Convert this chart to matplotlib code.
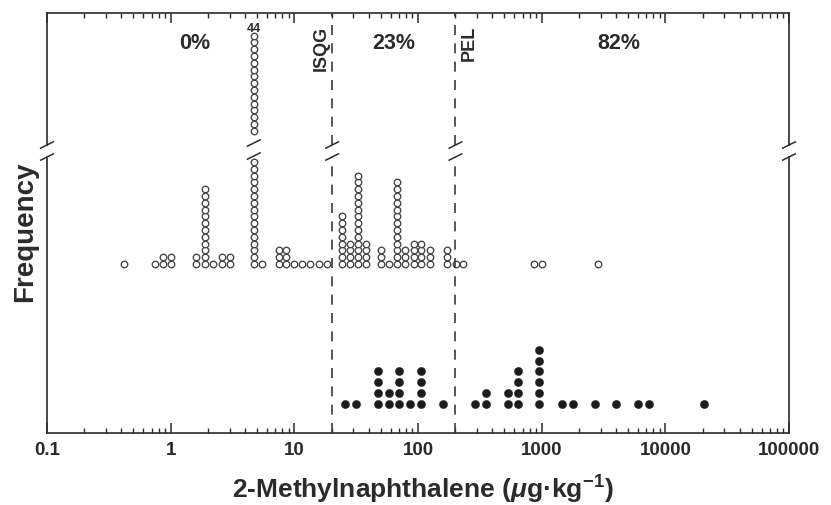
import numpy as np
import matplotlib
matplotlib.use("Agg")
import matplotlib.pyplot as plt
from matplotlib.ticker import FixedLocator, FixedFormatter, LogLocator, NullFormatter

plt.rcParams['font.family'] = ['Liberation Sans', 'DejaVu Sans']
plt.rcParams['font.weight'] = 'bold'
plt.rcParams['mathtext.fontset'] = 'custom'
plt.rcParams['mathtext.rm'] = 'Liberation Sans:bold'
plt.rcParams['mathtext.it'] = 'Liberation Sans:bold:italic'
plt.rcParams['mathtext.bf'] = 'Liberation Sans:bold'

# Non-toxic samples (open circles): concentration (ug/kg) and number stacked there
nontoxic_conc = [0.42, 0.75, 0.87, 1.0, 1.6, 1.9, 2.2, 2.6, 3.0, 4.7, 5.5,
                 7.5, 8.6, 9.9, 11.6, 13.5, 15.8, 18.4, 24.4, 28.1, 32.6,
                 37.7, 50.5, 58, 68, 79, 92, 106, 124, 171, 202, 233,
                 870, 1000, 2840]
nontoxic_count = [1, 1, 2, 2, 2, 12, 1, 2, 2, 44, 1,
                  3, 3, 1, 1, 1, 1, 1, 8, 4, 14,
                  4, 3, 1, 13, 3, 4, 4, 3, 3, 1, 1,
                  1, 1, 1]

# Toxic samples (filled circles)
toxic_conc = [25.6, 31.3, 47.7, 58, 70, 86, 106, 160, 288, 353, 537, 647,
              960, 1470, 1780, 2680, 3990, 5980, 7310, 20400]
toxic_count = [1, 1, 4, 2, 4, 1, 4, 1, 1, 2, 2, 4,
               6, 1, 1, 1, 1, 1, 1, 1]

# Sediment quality guidelines
ISQG = 20.2
PEL = 201
zone_labels = ['0%', '23%', '82%']

tick_values = [0.1, 1, 10, 100, 1000, 10000, 100000]
tick_labels = ['0.1', '1', '10', '100', '1000', '10000', '100000']

INK = '#2b2b2b'
EDGE = '#444444'

# vertical layout (y axis runs in pixel-like units, 0 = bottom spine)
OPEN_BASE, OPEN_STEP = 169, 6.8
FILL_BASE, FILL_STEP = 29.5, 10.7
LOW_MAX, HIGH_MIN, SHIFT = 16, 30, 64
BREAK_LO, BREAK_HI = 276, 288
YMAX = 420

fig = plt.figure(figsize=(8.31, 5.06), dpi=100)
ax = fig.add_axes([47 / 831, 72 / 506, 742 / 831, 420 / 506])
ax.set_xscale('log')
ax.set_xlim(tick_values[0], tick_values[-1])
ax.set_ylim(0, YMAX)


def open_levels(n):
    ys = []
    for k in range(1, n + 1):
        y = OPEN_BASE + (k - 1) * OPEN_STEP
        if k <= LOW_MAX:
            ys.append(y)
        elif k >= HIGH_MIN:
            ys.append(y - SHIFT)
    return ys


ox, oy = [], []
for c, n in zip(nontoxic_conc, nontoxic_count):
    ys = open_levels(n)
    ox += [c] * len(ys)
    oy += ys
ax.plot(ox, oy, 'o', ms=4.7, mfc='white', mec=EDGE, mew=0.95, ls='none',
        zorder=2, clip_on=False)

fx, fy = [], []
for c, n in zip(toxic_conc, toxic_count):
    fx += [c] * n
    fy += [FILL_BASE + k * FILL_STEP for k in range(n)]
ax.plot(fx, fy, 'o', ms=5.9, mfc='#1c1c1c', mec='#1c1c1c', mew=0.3,
        ls='none', zorder=2)

# label on the tallest stack
imax = int(np.argmax(nontoxic_count))
top_y = open_levels(nontoxic_count[imax])[-1]
ax.text(nontoxic_conc[imax], top_y + 5, str(nontoxic_count[imax]),
        ha='center', va='baseline', fontsize=9, fontweight='bold', color=INK)


def xfrac(v):
    return (np.log10(v) - np.log10(tick_values[0])) / (
        np.log10(tick_values[-1]) - np.log10(tick_values[0]))


def slash(xa, yd):
    ya = yd / YMAX
    dx, dy = 7 / 742, 3.5 / 420
    ax.plot([xa - dx, xa + dx], [ya - dy, ya + dy], transform=ax.transAxes,
            color=INK, lw=1.1, clip_on=False, zorder=6, solid_capstyle='butt')


# guideline lines, broken at the axis break
for g in (ISQG, PEL):
    for y0, y1 in ((0, BREAK_LO), (BREAK_HI, YMAX)):
        ax.plot([g, g], [y0, y1], color='#3a3a3a', lw=1.2,
                ls=(0, (6, 5)), zorder=3)
    slash(xfrac(g), BREAK_LO)
    slash(xfrac(g), BREAK_HI)

ax.annotate('ISQG', xy=(ISQG, 408), xytext=(-2, 0), textcoords='offset points',
            rotation=90, ha='right', va='top', fontsize=13, fontweight='bold',
            color=INK)
ax.annotate('PEL', xy=(PEL, 408), xytext=(4, 0), textcoords='offset points',
            rotation=90, ha='left', va='top', fontsize=13, fontweight='bold',
            color=INK)

# break marks on the tallest stack
slash(xfrac(nontoxic_conc[imax]), BREAK_LO + 1)
slash(xfrac(nontoxic_conc[imax]), BREAK_HI + 2)

# percent of toxic samples in each zone
for xa, txt in zip((0.1995, 0.4677, 0.7705), zone_labels):
    ax.text(xa, 0.93, txt, transform=ax.transAxes, ha='center', va='center',
            fontsize=15.5, fontweight='bold', color=INK)

# frame: left/right spines drawn by hand with the break
for s in ('left', 'right'):
    ax.spines[s].set_visible(False)
for s in ('top', 'bottom'):
    ax.spines[s].set_color(INK)
    ax.spines[s].set_linewidth(1.2)
for xa in (0, 1):
    for y0, y1 in ((0, BREAK_LO), (BREAK_HI, YMAX)):
        ax.plot([xa, xa], [y0 / YMAX, y1 / YMAX], transform=ax.transAxes,
                color=INK, lw=1.2, clip_on=False, zorder=6,
                solid_capstyle='projecting')
    slash(xa, BREAK_LO)
    slash(xa, BREAK_HI)

ax.set_yticks([])
ax.xaxis.set_major_locator(FixedLocator(tick_values))
ax.xaxis.set_major_formatter(FixedFormatter(tick_labels))
ax.xaxis.set_minor_locator(LogLocator(base=10, subs=np.arange(2, 10), numticks=20))
ax.xaxis.set_minor_formatter(NullFormatter())
ax.tick_params(axis='x', which='major', direction='in', length=7.5, width=1.1,
               top=True, bottom=True, color=INK, labelsize=13.5, pad=6,
               labelcolor=INK)
ax.tick_params(axis='x', which='minor', direction='in', length=3.8, width=1.0,
               top=True, bottom=True, color=INK)
for lab in ax.get_xticklabels():
    lab.set_fontweight('bold')

ax.set_xlabel('2-Methylnaphthalene ($\\mu$g\u00b7kg$^{-1}$)', fontsize=19,
              fontweight='bold', color=INK, va='center', ha='center')
ax.xaxis.set_label_coords(0.507, -0.132)
ax.set_ylabel('Frequency', fontsize=20, fontweight='bold', color=INK,
              va='center', ha='center')
ax.yaxis.set_label_coords(-0.0296, 0.481)

fig.savefig('out.png', dpi=100)
